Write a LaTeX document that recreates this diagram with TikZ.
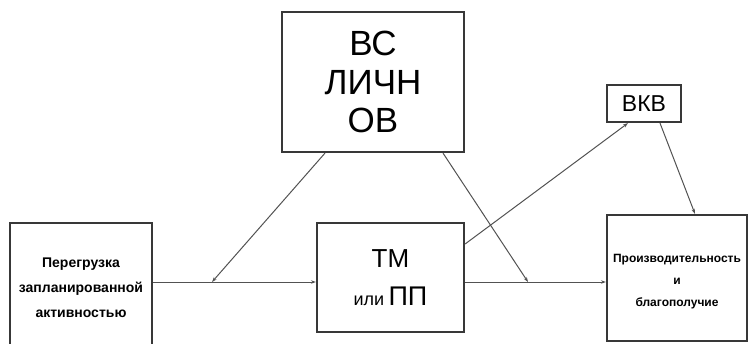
\documentclass[tikz,border=0pt]{standalone}
\usepackage{fontspec}
\setmainfont{Liberation Sans}
\usetikzlibrary{arrows.meta}

\begin{document}
\begin{tikzpicture}[
		x=1pt,y=1pt,
		box/.style={rectangle,draw=black!78,line width=2.2pt,align=center,inner sep=0pt},
		link/.style={draw=black!68,line width=1pt,-{Stealth[length=5pt,width=3.5pt]}},
		smallbold/.style={font=\bfseries\fontsize{12}{22}\selectfont}
		]
		\useasboundingbox (0,0) rectangle (749,343);
		\node[box,minimum width=142,minimum height=130,font=\bfseries\fontsize{14}{25}\selectfont] (overload) at (81,55) {Перегрузка\\запланированной\\активностью};
		\node[box,minimum width=147,minimum height=109,font=\fontsize{26}{38}\selectfont] (tm) at (390.5,65.5) {ТМ\\{\fontsize{18}{38}\selectfont или}\,{\fontsize{27}{38}\selectfont ПП}};
		\node[box,minimum width=182,minimum height=140,font=\fontsize{35}{38.5}\selectfont] (vs) at (373,261) {ВС\\ЛИЧН\\ОВ};
		\node[box,minimum width=74,minimum height=37,font=\fontsize{23}{26}\selectfont] (vkb) at (644,239.5) {ВКВ};
		\node[box,minimum width=140,minimum height=126,text height=60pt,smallbold] (perf) at (677,65) {Производительность\\и\\благополучие};
		
		\coordinate (j1) at (212,61);
		\coordinate (j2) at (528,61);
		\draw[link] (overload.east |- j1) -- (tm.west |- j1);
		\draw[link] (tm.east |- j2) -- (perf.west |- j2);
		\draw[link] ([xshift=-48pt]vs.south) -- (j1);
		\draw[link] ([xshift=70pt]vs.south) -- (j2);
		\draw[link] ([yshift=33.5pt]tm.east) -- ([xshift=-16pt]vkb.south);
		\draw[link] ([xshift=16pt]vkb.south) -- ([xshift=18pt]perf.north);
		\end{tikzpicture}
\end{document}
